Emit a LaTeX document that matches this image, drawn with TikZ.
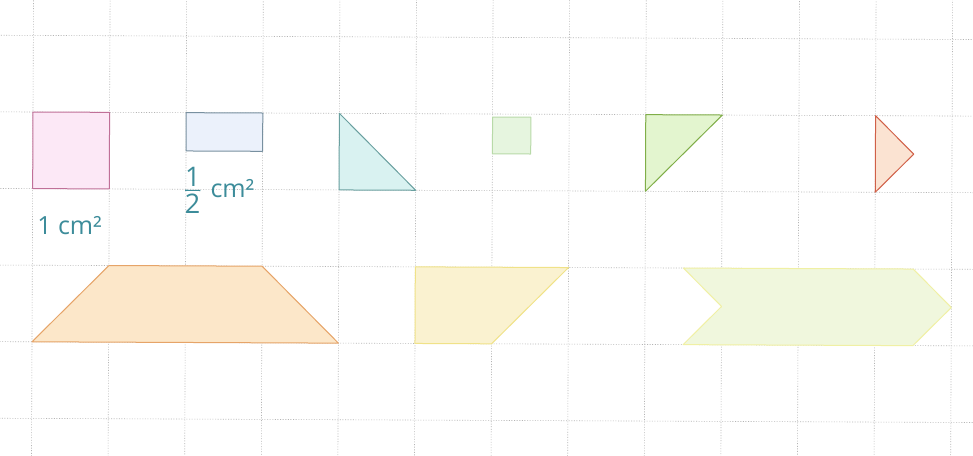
\documentclass[tikz,border=0pt]{standalone}
\usepackage{fontspec}
\setmainfont{Open Sans}
\usetikzlibrary{calc}
\definecolor{gridc}{HTML}{B4B4B4}
\definecolor{labc}{HTML}{3C8C9A}
\definecolor{pinkF}{HTML}{FCE8F6}\definecolor{pinkD}{HTML}{C07098}
\definecolor{blueF}{HTML}{EBF1FB}\definecolor{blueD}{HTML}{7890A0}
\definecolor{tealF}{HTML}{D9F2F1}\definecolor{tealD}{HTML}{6AA0A0}
\definecolor{sqF}{HTML}{E6F5DF}\definecolor{sqD}{HTML}{B8DAA8}
\definecolor{grnF}{HTML}{E3F5CF}\definecolor{grnD}{HTML}{80AE48}
\definecolor{orF}{HTML}{FBE3D2}\definecolor{orD}{HTML}{D06048}
\definecolor{trF}{HTML}{FCE7C9}\definecolor{trD}{HTML}{E6A468}
\definecolor{yeF}{HTML}{FAF2D0}\definecolor{yeD}{HTML}{F0E288}
\definecolor{chF}{HTML}{F0F7DD}\definecolor{chD}{HTML}{F0F0A4}
\tikzset{
  gridline/.style={gridc, line width=0.6pt, dash pattern=on 1pt off 1.6pt},
  figshape/.style={line width=1pt, line join=round},
  lab/.style={text=labc, font=\fontsize{25}{28}\selectfont, inner sep=0pt},
}
\begin{document}
\begin{tikzpicture}[x=1pt,y=1pt]
\fill[white] (0,0) rectangle (973,-455);
\useasboundingbox (0,0) rectangle (973,-455);
\begin{scope}
\clip (0,0) rectangle (973,-455);
\begin{scope}[shift={(33,-112)}, x=76.6pt, y=-76.6pt, rotate=-0.25]
  % grid
  \foreach \i in {-1,...,12} \draw[gridline] (\i,-2) -- (\i,6);
  \foreach \j in {-1,...,4} \draw[gridline] (-1,\j) -- (13,\j);
  % shapes
  \draw[figshape, fill=pinkF, draw=pinkD] (0,0) rectangle (1,1);
  \draw[figshape, fill=blueF, draw=blueD] (2,0) rectangle (3,0.5);
  \draw[figshape, fill=tealF, draw=tealD] (4,0) -- (4,1) -- (5,1) -- cycle;
  \draw[figshape, fill=sqF, draw=sqD] (6,0.04) rectangle (6.5,0.52);
  \draw[figshape, fill=grnF, draw=grnD] (8,0) -- (9,0) -- (8,1) -- cycle;
  \draw[figshape, fill=orF, draw=orD] (11,0) -- (11,1) -- (11.5,0.5) -- cycle;
  \draw[figshape, fill=trF, draw=trD] (0,3) -- (1,2) -- (3,2) -- (4,3) -- cycle;
  \draw[figshape, fill=yeF, draw=yeD] (5,2) -- (7,2) -- (6,3) -- (5,3) -- cycle;
  \draw[figshape, fill=chF, draw=chD] (8.5,2) -- (11.5,2) -- (12,2.5) -- (11.5,3) -- (8.5,3) -- (9,2.5) -- cycle;
  % labels
  \node[lab, anchor=base west] (one) at (0.06,1.6) {1 cm²};
  \node[lab, font=\fontsize{27}{30}\selectfont] (num) at (2.09,0.84) {1};
  \node[lab, font=\fontsize{27}{30}\selectfont] (den) at (2.09,1.19) {2};
  \draw[labc, line width=1.2pt] ($(num.south)!0.5!(den.north)+(-0.1,0)$) coordinate (b1) -- ++(0.2,0) coordinate (b2);
  \node[lab, anchor=base west] (cm) at (2.32,1.1) {cm²};
\end{scope}
\end{scope}
\end{tikzpicture}
\end{document}
